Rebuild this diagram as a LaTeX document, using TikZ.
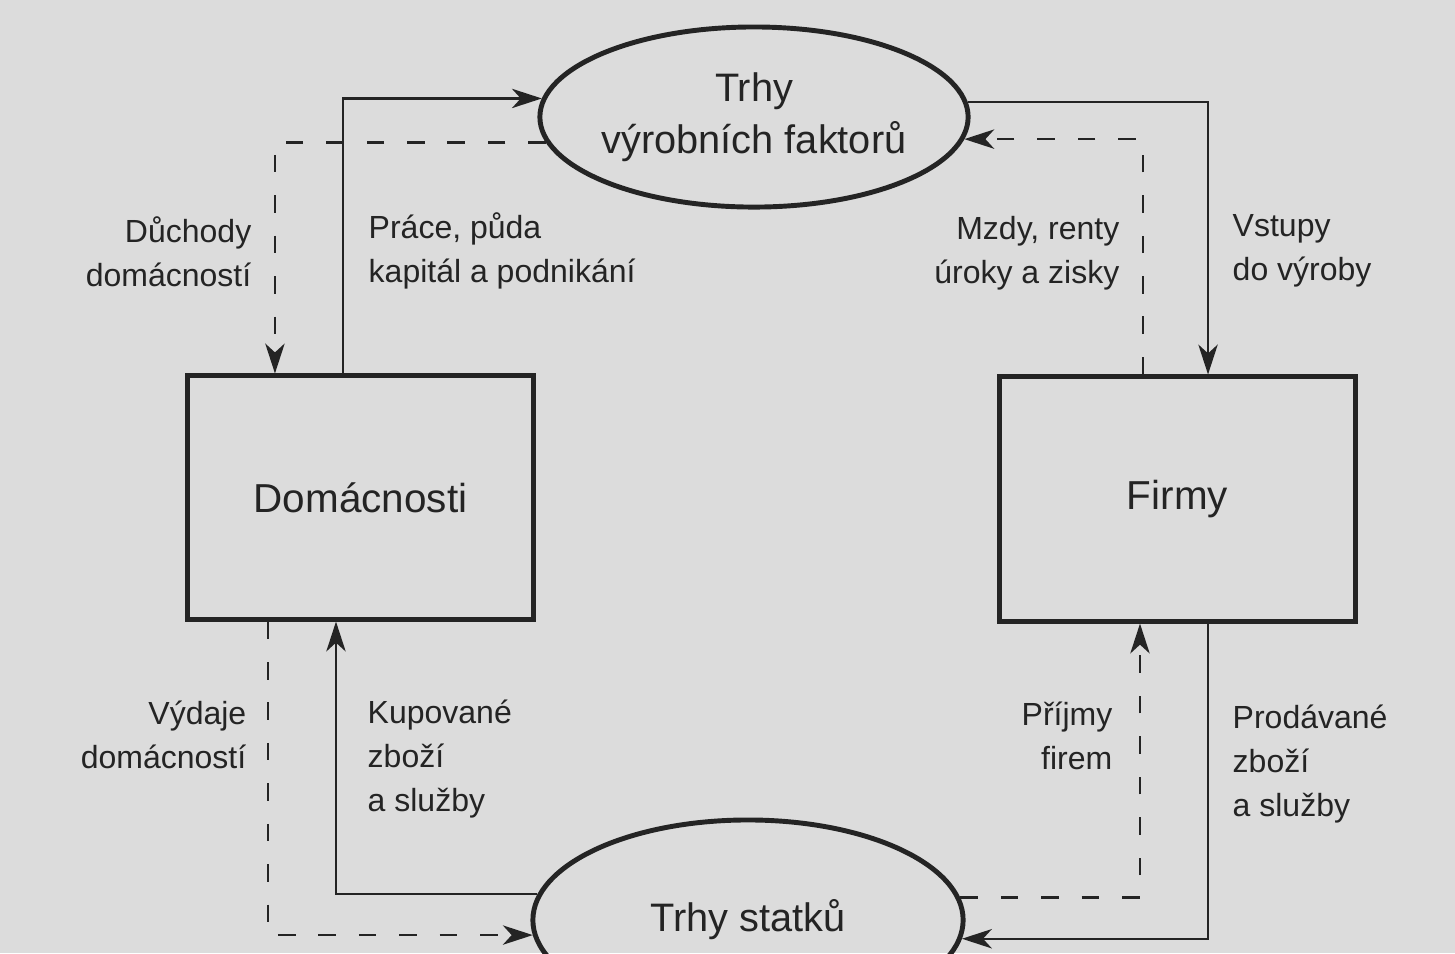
\documentclass[tikz,border=0pt]{standalone}
\usepackage{fontspec}
\setmainfont{Liberation Sans}
\usepackage{tikz}
\usetikzlibrary{shapes.geometric,arrows.meta}

\definecolor{paper}{HTML}{DCDCDC}
\definecolor{ink}{HTML}{242424}

\begin{document}
\begin{tikzpicture}[x=0.01cm,y=-0.01cm,
    >={Stealth[length=8.5pt,width=5.5pt,inset=2.5pt]},
    agent/.style={draw=ink,text=ink,line width=1.4pt,font=\fontsize{11.5}{14}\selectfont},
    market/.style={ellipse,draw=ink,text=ink,line width=1.4pt,inner sep=-20pt,align=center,
      font=\fontsize{11.3}{14.7}\selectfont},
    real/.style={draw=ink,line width=0.7pt,->},
    money/.style={real,dash pattern=on 5pt off 6.5pt},
    lbl/.style={inner sep=0pt,text=ink,font=\fontsize{9.1}{12.5}\selectfont}]
  \clip (0,0) rectangle (1455,953);
  \fill[paper] (0,0) rectangle (1455,953);

  % agents and markets
  \node[agent,minimum width=3.45cm,minimum height=2.43cm] (dom)  at (360.5,497.5) {Domácnosti};
  \node[agent,minimum width=3.55cm,minimum height=2.44cm] (firm) at (1177.5,499)  {Firmy};
  \node[market,minimum width=4.28cm,minimum height=1.8cm] (factors) at (754,117) {Trhy\\výrobních faktorů};
  \node[market,minimum width=4.3cm,minimum height=2cm]    (goods)   at (748,920) {Trhy statků};

  % top flows
  \draw[real]  ([xshift=-1.75mm]dom.north) |- (factors.175.4);
  \draw[money] (factors.187.2) -| ([xshift=-8.55mm]dom.north);
  \draw[real]  (factors.4.6) -| ([xshift=3.05mm]firm.north);
  \draw[money] ([xshift=-3.45mm]firm.north) |- (factors.354.2);
  % bottom flows
  \draw[money] ([xshift=-9.25mm]dom.south) |- (goods.184.9);
  \draw[real]  (goods.173.2) -| ([xshift=-2.45mm]dom.south);
  \draw[real]  ([xshift=3.05mm]firm.south) |- (goods.355.1);
  \draw[money] (goods.6.85) -| ([xshift=-3.75mm]firm.south);

  % flow labels
  \node[lbl,align=right,anchor=north east] (l_inc)  at (252,216)  {Důchody\\domácností};
  \node[lbl,align=left,anchor=north west]  (l_lab)  at (368,212)  {Práce, půda\\kapitál a podnikání};
  \node[lbl,align=right,anchor=north east] (l_wag)  at (1120,216) {Mzdy, renty\\úroky a zisky};
  \node[lbl,align=left,anchor=north west]  (l_inp)  at (1232,214) {Vstupy\\do výroby};
  \node[lbl,align=right,anchor=north east] (l_exp)  at (247,700)  {Výdaje\\domácností};
  \node[lbl,align=left,anchor=north west]  (l_buy)  at (367,699)  {Kupované\\zboží\\a služby};
  \node[lbl,align=right,anchor=north east] (l_rev)  at (1113,701) {Příjmy\\firem};
  \node[lbl,align=left,anchor=north west]  (l_sell) at (1232,704) {Prodávané\\zboží\\a služby};
\end{tikzpicture}
\end{document}
